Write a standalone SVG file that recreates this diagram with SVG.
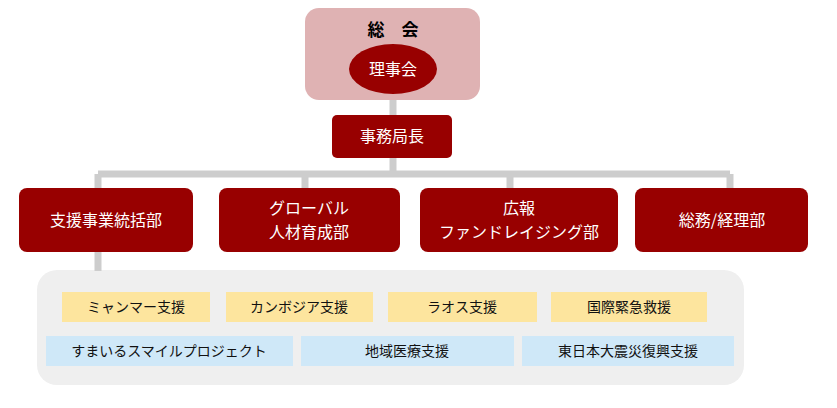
<svg xmlns="http://www.w3.org/2000/svg" width="837" height="408" viewBox="0 0 837 408">
<style>
text{font-family:"Noto Sans CJK JP",sans-serif;text-anchor:middle}
.r{fill:#980000}
.w{fill:#fff;font-size:16px}
.y{fill:#fde59e}
.b{fill:#cfe8f8}
.s{fill:#111;font-size:14px}
.c{stroke:#cdcdcd;stroke-width:7;fill:none}
</style>
<rect width="837" height="408" fill="#fff"/>
<g id="panel"><rect x="37" y="270" width="707" height="115" rx="20" fill="#efefef"/></g>
<g id="connectors">
<path class="c" d="M393 100V116M393 157V174M98 174H730M98 174V190M305 174V190M510 174V190M730 174V190M98 250V271"/>
</g>
<g id="soukai"><rect x="305" y="8" width="175" height="92" rx="14" fill="#dfb2b3"/>
<text x="393" y="36" style="font-size:17px;font-weight:bold" fill="#000">総　会</text></g>
<g id="rijikai"><ellipse cx="393" cy="69" rx="44" ry="25" class="r"/><text class="w" x="393" y="75">理事会</text></g>
<g id="jimu"><rect x="332" y="115" width="120" height="43" rx="5" class="r"/><text class="w" x="392" y="142">事務局長</text></g>
<g id="d1"><rect x="19" y="188" width="174" height="64" rx="8" class="r"/><text class="w" x="106" y="226">支援事業統括部</text></g>
<g id="d2"><rect x="219" y="188" width="181" height="64" rx="8" class="r"/><text class="w" x="309" y="214">グローバル</text><text class="w" x="309" y="238">人材育成部</text></g>
<g id="d3"><rect x="420" y="188" width="198" height="64" rx="8" class="r"/><text class="w" x="519" y="214">広報</text><text class="w" x="519" y="238">ファンドレイジング部</text></g>
<g id="d4"><rect x="635" y="188" width="173" height="64" rx="8" class="r"/><text class="w" x="722" y="226">総務/経理部</text></g>
<g id="p1"><rect x="62" y="292" width="148" height="30" class="y"/><text class="s" x="136" y="312">ミャンマー支援</text></g>
<g id="p2"><rect x="226" y="292" width="147" height="30" class="y"/><text class="s" x="299" y="312">カンボジア支援</text></g>
<g id="p3"><rect x="388" y="292" width="149" height="30" class="y"/><text class="s" x="462" y="312">ラオス支援</text></g>
<g id="p4"><rect x="551" y="292" width="156" height="30" class="y"/><text class="s" x="629" y="312">国際緊急救援</text></g>
<g id="p5"><rect x="46" y="336" width="247" height="30" class="b"/><text class="s" x="169" y="356">すまいるスマイルプロジェクト</text></g>
<g id="p6"><rect x="301" y="336" width="213" height="30" class="b"/><text class="s" x="407" y="356">地域医療支援</text></g>
<g id="p7"><rect x="522" y="336" width="212" height="30" class="b"/><text class="s" x="628" y="356">東日本大震災復興支援</text></g>
</svg>
